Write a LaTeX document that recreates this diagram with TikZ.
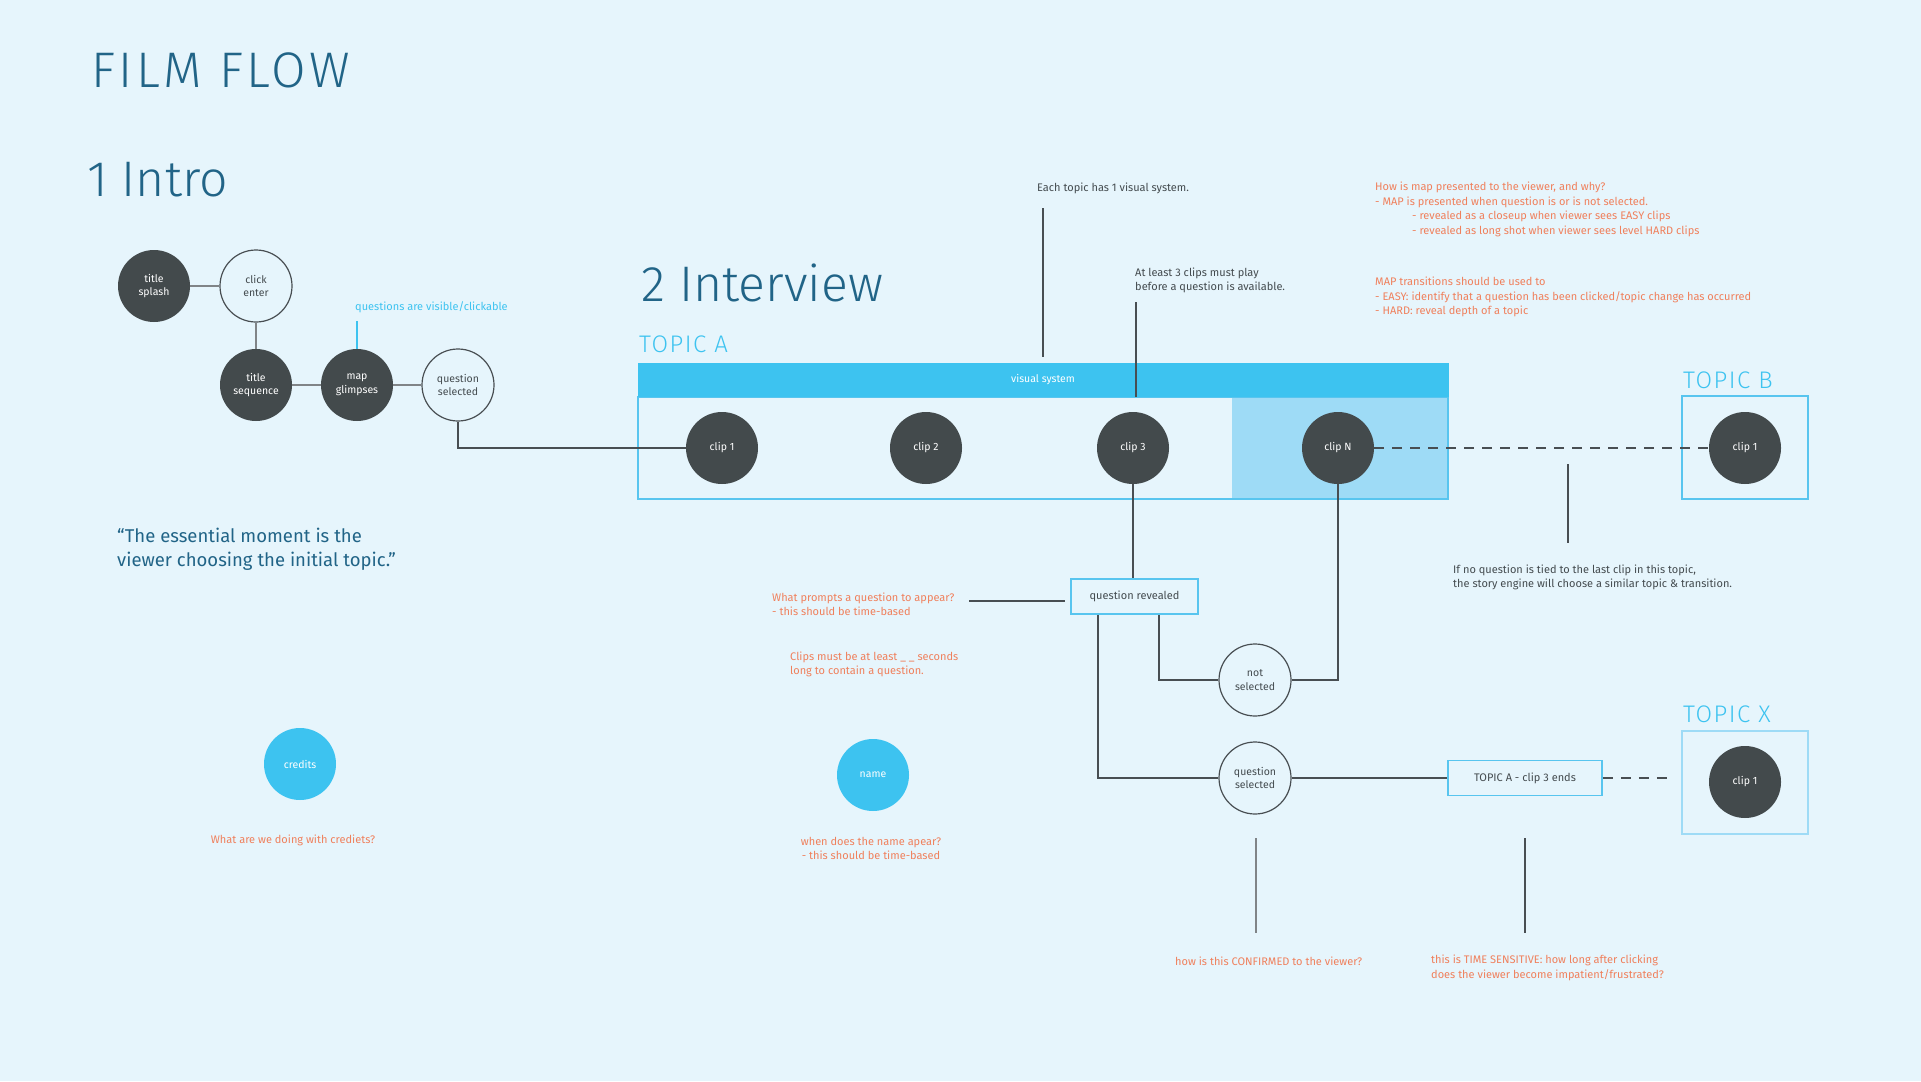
\documentclass[tikz,border=0pt]{standalone}
\usepackage{fontspec}
\setmainfont{Fira Sans}
\newfontfamily\thinfont{Fira Sans Light}
\usetikzlibrary{calc}
\definecolor{bg}{RGB}{230,245,252}
\definecolor{darkc}{RGB}{67,74,76}
\definecolor{vblue}{RGB}{61,195,240}
\definecolor{lblue}{RGB}{158,219,246}
\definecolor{bblue}{RGB}{88,197,239}
\definecolor{orng}{RGB}{240,128,92}
\definecolor{txt}{RGB}{68,75,79}
\definecolor{teal}{RGB}{33,100,135}
\definecolor{ln}{RGB}{72,78,82}
\definecolor{gln}{RGB}{128,132,135}
\begin{document}
\begin{tikzpicture}[x=1pt,y=-1pt,
  clipdot/.style={circle,minimum size=72pt,inner sep=0pt,fill=darkc,text=white,align=center,font=\fontsize{10.5}{13.5}\selectfont},
  ringnode/.style={circle,minimum size=72pt,inner sep=0pt,draw=ln,line width=1.2pt,fill=bg,text=txt,align=center,font=\fontsize{10.5}{13.5}\selectfont},
  bluedot/.style={circle,minimum size=72pt,inner sep=0pt,fill=vblue,text=white,align=center,font=\fontsize{10.5}{13.5}\selectfont},
  notetxt/.style={inner sep=0pt,anchor=west,align=left,text=txt,font=\fontsize{11}{14.5}\selectfont},
  onote/.style={notetxt,text=orng},
  headtxt/.style={inner sep=0pt,anchor=west,text=teal,font=\thinfont\fontsize{50}{56}\selectfont},
  topichead/.style={inner sep=0pt,anchor=west,text=vblue,font=\thinfont\fontsize{24}{28}\selectfont\addfontfeatures{LetterSpace=6}},
  conn/.style={draw=ln,line width=1.3pt},
  gconn/.style={draw=gln,line width=2pt},
  dconn/.style={draw=ln,line width=1.3pt,dash pattern=on 10pt off 8pt},
  qbox/.style={draw=bblue,line width=1.5pt,fill=bg,text=txt,inner sep=0pt,font=\fontsize{11}{13.5}\selectfont}
]
\useasboundingbox (0,0) rectangle (1921,1081);
\fill[bg] (0,0) rectangle (1921,1081);

% headings
\node[headtxt,font=\thinfont\fontsize{50}{56}\selectfont\addfontfeatures{LetterSpace=7}] (filmflow) at (91,70) {FILM FLOW};
\node[headtxt] (intro) at (87,180) {1 Intro};
\node[headtxt] (interview) at (641,283) {2 Interview};
\node[topichead] (topA) at (639,344.5) {TOPIC A};
\node[topichead] (topB) at (1683,380) {TOPIC B};
\node[topichead] (topX) at (1683,714.5) {TOPIC X};

% intro flow
\node[clipdot] (ts) at (154,286) {title\\splash};
\node[ringnode] (ce) at (256,286) {click\\enter};
\node[clipdot] (tseq) at (256,385) {title\\sequence};
\node[clipdot] (mg) at (357,385) {map\\glimpses};
\node[ringnode] (qs1) at (458,385) {question\\selected};
\draw[gconn] (ts) -- (ce);
\draw[gconn] (ce) -- (tseq);
\draw[gconn] (tseq) -- (mg);
\draw[gconn] (mg) -- (qs1);
\node[notetxt,text=vblue] (qvis) at (355,307) {questions are visible/clickable};
\coordinate (qvc) at (357,321);
\draw[draw=vblue,line width=1.2pt] (mg.north) -- (qvc);

\node[inner sep=0pt,anchor=west,align=left,text=teal,font=\fontsize{18.5}{24}\selectfont] (quote) at (117,549) {``The essential moment is the\\viewer choosing the initial topic.''};

\node[bluedot] (credits) at (300,764) {credits};
\node[onote,anchor=center] (credq) at (293,840) {What are we doing with crediets?};

% topic A
\fill[lblue] (1232,397) rectangle (1448,499);
\node[draw=bblue,line width=1.3pt,minimum width=810pt,minimum height=102pt,inner sep=0pt] (tabox) at (1043,448) {};
\node[fill=vblue,minimum width=811pt,minimum height=34pt,inner sep=0pt,text=white,font=\fontsize{10.5}{13}\selectfont] (vsbar) at (1043,380) {visual system};
\node[clipdot] (c1) at (722,448) {clip 1};
\node[clipdot] (c2) at (926,448) {clip 2};
\node[clipdot] (c3) at (1133,448) {clip 3};
\node[clipdot] (cN) at (1338,448) {clip N};
\draw[conn] (qs1.south) |- (c1.west);

\node[notetxt] (eachtopic) at (1037,188) {Each topic has 1 visual system.};
\coordinate (a1) at (1043,208);
\coordinate (a2) at (1043,357);
\draw[conn] (a1) -- (a2);
\node[notetxt] (atleast) at (1135,280.5) {At least 3 clips must play\\before a question is available.};
\coordinate (b1) at (1136,302);
\draw[conn] (b1) -- (b1 |- vsbar.south);

\node[onote] (mapq) at (1375,209.5) {How is map presented to the viewer, and why?\\- MAP is presented when question is or is not selected.\\\hspace*{37pt}- revealed as a closeup when viewer sees EASY clips\\\hspace*{37pt}- revealed as long shot when viewer sees level HARD clips};
\node[onote] (mapt) at (1375,297) {MAP transitions should be used to\\- EASY: identify that a question has been clicked/topic change has occurred\\- HARD: reveal depth of a topic};

% question flow
\node[qbox,minimum width=127pt,minimum height=35pt] (qr) at (1134.5,596.5) {question revealed};
\draw[conn] (c3.south) -- (c3.south |- qr.north);
\node[ringnode] (ns) at (1255,680) {not\\selected};
\node[ringnode] (qsel) at (1255,778) {question\\selected};
\draw[conn] (cN.south) |- (ns.east);
\draw[conn] ([xshift=24.5pt]qr.south) |- (ns.west);
\draw[conn] ([xshift=-36.5pt]qr.south) |- (qsel.west);
\node[qbox,minimum width=154pt,minimum height=35pt] (tae) at (1525,778) {TOPIC A - clip 3 ends};
\draw[conn] (qsel.east) -- (tae.west);

\node[onote] (prompt) at (772,604.5) {What prompts a question to appear?\\- this should be time-based};
\coordinate (p1) at (969,601);
\coordinate (p2) at (1065,601);
\draw[conn] (p1) -- (p2);
\node[onote] (cliplen) at (790,664.5) {Clips must be at least \_ \_ seconds\\long to contain a question.};

\node[bluedot] (name) at (873,775) {name};
\node[onote,anchor=center,align=center] (nameq) at (871,848.5) {when does the name apear?\\- this should be time-based};

% topic B
\node[draw=bblue,line width=1.3pt,minimum width=126pt,minimum height=103pt,inner sep=0pt] (tbbox) at (1745,447.5) {};
\node[clipdot] (cB) at (1745,448) {clip 1};
\draw[dconn] (cN.east) -- (cB.west);
\coordinate (n1) at (1568,464);
\coordinate (n2) at (1568,543);
\draw[conn] (n1) -- (n2);
\node[notetxt] (noq) at (1453,577.5) {If no question is tied to the last clip in this topic,\\the story engine will choose a similar topic \& transition.};

% topic X
\node[draw=lblue,line width=2pt,minimum width=126pt,minimum height=103pt,inner sep=0pt] (txbox) at (1745,782.5) {};
\node[clipdot] (cX) at (1745,782) {clip 1};
\coordinate (txend) at (1674,778);
\draw[dconn] (tae.east) -- (txend);

\coordinate (k1) at (1256,838);
\coordinate (k2) at (1256,933);
\draw[gconn] (k1) -- (k2);
\node[onote] (confirm) at (1175,961) {how is this CONFIRMED to the viewer?};
\coordinate (t1) at (1525,838);
\coordinate (t2) at (1525,933);
\draw[conn] (t1) -- (t2);
\node[onote] (timesens) at (1431,968) {this is TIME SENSITIVE: how long after clicking\\does the viewer become impatient/frustrated?};
\end{tikzpicture}
\end{document}
